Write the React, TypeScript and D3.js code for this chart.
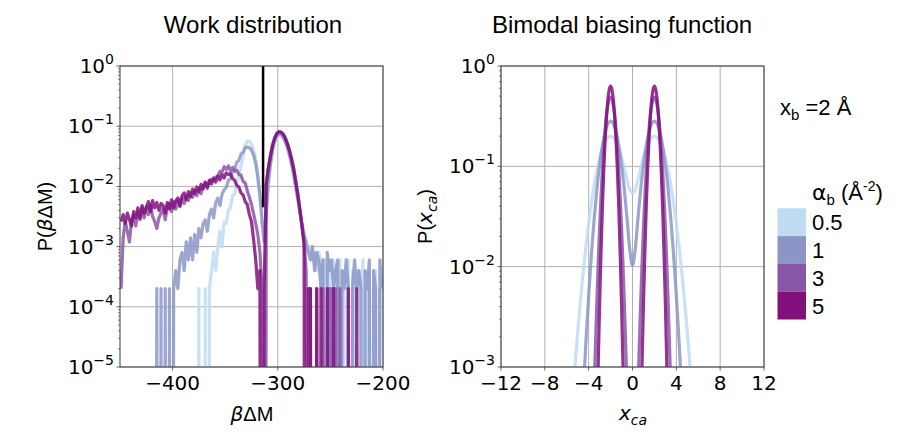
import * as d3 from 'd3';

// ---- data: work distribution histograms (bin width 2, centres -449 .. -201)
const workBins = d3.range(-449, -200, 2);

const workA05 = [
  0, 0, 0, 0, 0, 0, 0, 0, 0, 0,
  0, 0, 0, 0, 0, 0, 0, 0, 0, 0,
  0, 0, 0, 0, 0, 0, 0, 0, 0, 0,
  0, 0, 0, 0, 0, 0, 0, 2e-4, 0, 0,
  2e-4, 0, 2e-4, 4e-4, 8e-4, 4e-4, 1e-3, 1.8e-3, 1e-3, 2.6e-3,
  2.4e-3, 4e-3, 4.4e-3, 7e-3, 7.4e-3, 0.0118, 0.0142, 0.022, 0.031, 0.048,
  0.057, 0.056, 0.05, 0.04, 0.028, 0.016, 0.007, 0.0025, 0.0012, 0.004,
  0.012, 0.024, 0.04, 0.055, 0.066, 0.071, 0.07, 0.065, 0.055, 0.044,
  0.033, 0.023, 0.015, 0.0095, 0.006, 0.0036, 0.0022, 0.0014, 1e-3, 8e-4,
  1e-3, 6e-4, 8e-4, 4e-4, 8e-4, 6e-4, 2e-4, 6e-4, 2e-4, 6e-4,
  0, 6e-4, 4e-4, 2e-4, 6e-4, 0, 4e-4, 2e-4, 6e-4, 0,
  4e-4, 2e-4, 0, 4e-4, 2e-4, 6e-4, 0, 2e-4, 4e-4, 0,
  2e-4, 4e-4, 0, 2e-4, 2e-4,
];

const workA1 = [
  0, 0, 0, 0, 0, 0, 0, 0, 0, 0,
  0, 0, 0, 0, 0, 0, 0, 2e-4, 0, 2e-4,
  0, 2e-4, 0, 2e-4, 0, 2e-4, 4e-4, 2e-4, 6e-4, 8e-4,
  4e-4, 1.2e-3, 6e-4, 1.4e-3, 6e-4, 1.6e-3, 8e-4, 2e-3, 1.4e-3, 2.4e-3,
  2.8e-3, 1.8e-3, 3.4e-3, 4.2e-3, 3e-3, 5.4e-3, 6.4e-3, 4.8e-3, 7.4e-3, 8.8e-3,
  0.0096, 0.0126, 0.0134, 0.018, 0.0192, 0.0252, 0.027, 0.0344, 0.0368, 0.0442,
  0.045, 0.044, 0.04, 0.033, 0.024, 0.014, 0.007, 0.0028, 0.0012, 0.0035,
  0.011, 0.023, 0.04, 0.057, 0.069, 0.074, 0.073, 0.066, 0.056, 0.045,
  0.034, 0.024, 0.016, 0.01, 0.0062, 0.0038, 0.0024, 0.0016, 1.2e-3, 8e-4,
  6e-4, 1e-3, 4e-4, 8e-4, 6e-4, 2e-4, 6e-4, 0, 8e-4, 4e-4,
  6e-4, 2e-4, 4e-4, 6e-4, 0, 4e-4, 2e-4, 6e-4, 2e-4, 0,
  2e-4, 6e-4, 2e-4, 4e-4, 2e-4, 0, 4e-4, 2e-4, 6e-4, 0,
  4e-4, 2e-4, 0, 6e-4, 2e-4,
];

const workA3 = [
  2e-4, 1.4e-3, 2.6e-3, 1.8e-3, 1.2e-3, 2.8e-3, 3.4e-3, 2.2e-3, 3.8e-3, 2.8e-3,
  4.4e-3, 3e-3, 4.6e-3, 3.4e-3, 4.8e-3, 3.2e-3, 2.6e-3, 2e-3, 3e-3, 3.6e-3,
  4.2e-3, 2.8e-3, 4.6e-3, 5.2e-3, 3.8e-3, 5.6e-3, 4.2e-3, 5.8e-3, 4.6e-3, 6.4e-3,
  5.2e-3, 7e-3, 5.8e-3, 7.8e-3, 6.6e-3, 8.6e-3, 7e-3, 9.2e-3, 7.6e-3, 0.0102,
  0.0112, 0.0092, 0.0122, 0.0132, 0.0124, 0.0142, 0.0148, 0.0178, 0.0172, 0.0212,
  0.0192, 0.0218, 0.0182, 0.0206, 0.0178, 0.0186, 0.0158, 0.0154, 0.0122, 0.0114,
  0.0085, 0.0066, 0.005, 0.0035, 0.0024, 0.0016, 8e-4, 2e-4, 0, 0.0105,
  0.02, 0.032, 0.048, 0.063, 0.075, 0.081, 0.08, 0.074, 0.064, 0.052,
  0.04, 0.029, 0.02, 0.0123, 0.0074, 0.0041, 0.0022, 0.0011, 4e-4, 0,
  2e-4, 0, 0, 2e-4, 0, 0, 2e-4, 0, 0, 2e-4,
  2e-4, 0, 2e-4, 0, 2e-4, 0, 0, 0, 0, 0,
  0, 0, 0, 0, 0, 0, 0, 0, 0, 0,
  0, 0, 0, 0, 0,
];

const workA5 = [
  2.6e-3, 3.4e-3, 2.4e-3, 3.6e-3, 2.8e-3, 2.2e-3, 3.8e-3, 3e-3, 4.4e-3, 3e-3,
  4.8e-3, 3.6e-3, 4.4e-3, 5.6e-3, 3.8e-3, 5.8e-3, 4.4e-3, 5.4e-3, 4e-3, 5.2e-3,
  4.8e-3, 3.6e-3, 5.4e-3, 4.2e-3, 6e-3, 4.4e-3, 5.8e-3, 6.4e-3, 4.8e-3, 7e-3,
  7.8e-3, 6e-3, 8.2e-3, 6.8e-3, 9e-3, 7.6e-3, 0.0098, 8.2e-3, 0.0108, 0.009,
  0.0118, 0.0098, 0.0126, 0.011, 0.0138, 0.0118, 0.0148, 0.0128, 0.0158, 0.0138,
  0.0168, 0.0158, 0.0162, 0.0136, 0.0126, 0.0104, 0.0098, 0.0078, 0.0072, 0.0056,
  0.005, 0.0034, 0.0026, 0.0013, 6e-4, 2e-4, 4e-4, 0, 2e-4, 0.011,
  0.02, 0.032, 0.048, 0.063, 0.075, 0.081, 0.08, 0.074, 0.064, 0.052,
  0.04, 0.029, 0.02, 0.0123, 0.0074, 0.0041, 0.0022, 0.0011, 0, 2e-4,
  2e-4, 0, 0, 2e-4, 0, 2e-4, 0, 0, 2e-4, 0,
  0, 2e-4, 0, 0, 0, 0, 0, 0, 2e-4, 0,
  0, 0, 2e-4, 0, 0, 0, 0, 0, 0, 0,
  0, 0, 0, 0, 0,
];

// reference work value (vertical black line)
const markerWork = -314;
const markerRange = [0.0045, 1];

// ---- data: bimodal biasing function P(x_ca)
const biasX05 = d3.range(-5.5, 5.51, 0.25);
const biasP05 = [
  0.000437, 0.00102, 0.00222, 0.00455, 0.00876, 0.0159, 0.027, 0.0431, 0.0648, 0.0913, 0.121,
  0.1506, 0.176, 0.1934, 0.1995, 0.1935, 0.1765, 0.1516, 0.1232, 0.0959, 0.0735, 0.059,
  0.054,
  0.059, 0.0735, 0.0959, 0.1232, 0.1516, 0.1765, 0.1935, 0.1995, 0.1934, 0.176, 0.1506,
  0.121, 0.0913, 0.0648, 0.0431, 0.027, 0.0159, 0.00876, 0.00455, 0.00222, 0.00102, 0.000437,
];

const biasX1 = d3.range(-4.5, 4.51, 0.25);
const biasP1 = [
  0.000544, 0.00179, 0.00517, 0.01319, 0.0297, 0.0591, 0.1038, 0.1607, 0.2197, 0.265,
  0.2821, 0.265, 0.2197, 0.1607, 0.1038, 0.0593, 0.03028, 0.01498,
  0.01033,
  0.01498, 0.03028, 0.0593, 0.1038, 0.1607, 0.2197, 0.265, 0.2821, 0.265, 0.2197,
  0.1607, 0.1038, 0.0591, 0.0297, 0.01319, 0.00517, 0.00179, 0.000544,
];

const biasX3 = [
  -3.5, -3.375, -3.25, -3.125, -3, -2.875, -2.75, -2.625, -2.5, -2.375, -2.25, -2.125, -2,
  -1.875, -1.75, -1.625, -1.5, -1.375, -1.25, -1.125, -1, -0.875, -0.75, -0.625, -0.5,
  0,
  0.5, 0.625, 0.75, 0.875, 1, 1.125, 1.25, 1.375, 1.5, 1.625, 1.75, 1.875,
  2, 2.125, 2.25, 2.375, 2.5, 2.625, 2.75, 2.875, 3, 3.125, 3.25, 3.375, 3.5,
];
const biasP3 = [
  0.000572, 0.001681, 0.0045, 0.01096, 0.02433, 0.04915, 0.0904, 0.1514, 0.2308, 0.3204, 0.4051, 0.4662, 0.4886,
  0.4662, 0.4051, 0.3204, 0.2308, 0.1514, 0.0904, 0.04915, 0.02433, 0.01096, 0.0045, 0.001681, 0.000572,
  0.000006,
  0.000572, 0.001681, 0.0045, 0.01096, 0.02433, 0.04915, 0.0904, 0.1514, 0.2308, 0.3204, 0.4051, 0.4662,
  0.4886, 0.4662, 0.4051, 0.3204, 0.2308, 0.1514, 0.0904, 0.04915, 0.02433, 0.01096, 0.0045, 0.001681, 0.000572,
];

const biasX5 = [
  -3.25, -3.125, -3, -2.875, -2.75, -2.625, -2.5, -2.375, -2.25, -2.125, -2,
  -1.875, -1.75, -1.625, -1.5, -1.375, -1.25, -1.125, -1, -0.875, -0.75,
  0,
  0.75, 0.875, 1, 1.125, 1.25, 1.375, 1.5, 1.625, 1.75, 1.875,
  2, 2.125, 2.25, 2.375, 2.5, 2.625, 2.75, 2.875, 3, 3.125, 3.25,
];
const biasP5 = [
  0.000255, 0.001126, 0.00425, 0.01372, 0.0379, 0.0895, 0.1807, 0.3123, 0.4615, 0.5834, 0.6308,
  0.5834, 0.4615, 0.3123, 0.1807, 0.0895, 0.0379, 0.01372, 0.00425, 0.001126, 0.000255,
  0.0000000026,
  0.000255, 0.001126, 0.00425, 0.01372, 0.0379, 0.0895, 0.1807, 0.3123, 0.4615, 0.5834,
  0.6308, 0.5834, 0.4615, 0.3123, 0.1807, 0.0895, 0.0379, 0.01372, 0.00425, 0.001126, 0.000255,
];

const alphaLabels = ['0.5', '1', '3', '5'];
const alphaColors = ['#bfdcf2', '#8c96c6', '#8856a7', '#810f7c'];
const workSeries = [workA05, workA1, workA3, workA5];
const biasSeries = [
  [biasX05, biasP05],
  [biasX1, biasP1],
  [biasX3, biasP3],
  [biasX5, biasP5],
];

const workTicks = [-400, -300, -200];
const biasTicks = [-12, -8, -4, 0, 4, 8, 12];

const W = 900;
const H = 448;
const L = { x0: 120, x1: 383, y0: 66, y1: 367 };
const R = { x0: 501, x1: 764, y0: 66, y1: 367 };

const tickFont = '"DejaVu Sans", sans-serif';
const textFont = '"Liberation Sans", Arial, sans-serif';
const gridColor = '#b0b0b0';
const spineColor = '#3a3a3a';

const minus = (v: number) => (v < 0 ? '\u2212' + Math.abs(v) : String(v));

function LogAxis({ y, x0, exps }) {
  const [lo, hi] = y.domain();
  const minors: number[] = [];
  for (let e = Math.round(Math.log10(lo)); e < Math.round(Math.log10(hi)); e++) {
    for (let k = 2; k <= 9; k++) minors.push(k * Math.pow(10, e));
  }
  return (
    <g>
      {minors.map((v, i) => (
        <line key={'m' + i} x1={x0 - 2} x2={x0} y1={y(v)} y2={y(v)} stroke={spineColor} strokeWidth={0.6} />
      ))}
      {exps.map((e) => {
        const v = Math.pow(10, e);
        return (
          <g key={e}>
            <line x1={x0 - 3.5} x2={x0} y1={y(v)} y2={y(v)} stroke={spineColor} strokeWidth={0.8} />
            <text x={x0 - 6} y={y(v) + 7} textAnchor="end" fontFamily={tickFont} fontSize={20} fill="#000">
              10<tspan dy={-9} fontSize={14}>{minus(e)}</tspan>
            </text>
          </g>
        );
      })}
    </g>
  );
}

function Frame({ box }) {
  return (
    <rect x={box.x0} y={box.y0} width={box.x1 - box.x0} height={box.y1 - box.y0}
      fill="none" stroke={spineColor} strokeWidth={1} />
  );
}

export default function App() {
  const xL = d3.scaleLinear().domain([-450, -200]).range([L.x0, L.x1]);
  const yL = d3.scaleLog().domain([1e-5, 1]).range([L.y1, L.y0]);
  const xR = d3.scaleLinear().domain([-12, 12]).range([R.x0, R.x1]);
  const yR = d3.scaleLog().domain([1e-3, 1]).range([R.y1, R.y0]);

  const workLine = d3.line<number>()
    .x((_, i) => xL(workBins[i]))
    .y((d) => yL(d > 0 ? d : 1e-30));

  const biasLine = d3.line<[number, number]>()
    .x((d) => xR(d[0]))
    .y((d) => yR(d[1]))
    .curve(d3.curveMonotoneX);

  const leftDecades = [-5, -4, -3, -2, -1, 0];
  const rightDecades = [-3, -2, -1, 0];

  return (
    <div style={{ position: 'absolute', left: 0, top: 0 }}>
      <svg width={W} height={H} viewBox={`0 0 ${W} ${H}`} style={{ display: 'block', background: '#fff' }}>
        <defs>
          <clipPath id="clipL"><rect x={L.x0} y={L.y0} width={L.x1 - L.x0} height={L.y1 - L.y0} /></clipPath>
          <clipPath id="clipR"><rect x={R.x0} y={R.y0} width={R.x1 - R.x0} height={R.y1 - R.y0} /></clipPath>
        </defs>

        {/* ---------- left: work distribution ---------- */}
        <g>
          {workTicks.map((t) => (
            <line key={t} x1={xL(t)} x2={xL(t)} y1={L.y0} y2={L.y1} stroke={gridColor} strokeWidth={1} />
          ))}
          {leftDecades.map((e) => (
            <line key={e} x1={L.x0} x2={L.x1} y1={yL(Math.pow(10, e))} y2={yL(Math.pow(10, e))} stroke={gridColor} strokeWidth={1} />
          ))}
          <g clipPath="url(#clipL)">
            {workSeries.map((s, i) => (
              <path key={i} d={workLine(s) || ''} fill="none" stroke={alphaColors[i]}
                strokeWidth={3.2} strokeOpacity={0.85} strokeLinejoin="round" />
            ))}
            <line x1={xL(markerWork)} x2={xL(markerWork)} y1={yL(markerRange[1])} y2={yL(markerRange[0])}
              stroke="#000" strokeWidth={2.5} />
          </g>
          <Frame box={L} />
          <LogAxis y={yL} x0={L.x0} exps={leftDecades} />
          {workTicks.map((t) => (
            <g key={t}>
              <line x1={xL(t)} x2={xL(t)} y1={L.y1} y2={L.y1 + 3.5} stroke={spineColor} strokeWidth={0.8} />
              <text x={xL(t)} y={390} textAnchor="middle" fontFamily={tickFont} fontSize={20}>{minus(t)}</text>
            </g>
          ))}
          <text x={253} y={33} textAnchor="middle" fontFamily={textFont} fontSize={24}>Work distribution</text>
          <text x={252} y={421} textAnchor="middle" fontFamily={textFont} fontSize={20}>
            <tspan fontFamily={tickFont} fontStyle="italic">β</tspan>ΔM
          </text>
          <text transform="translate(52,216.5) rotate(-90)" textAnchor="middle" fontFamily={textFont} fontSize={20}>
            P(<tspan fontFamily={tickFont} fontStyle="italic">β</tspan>ΔM)
          </text>
        </g>

        {/* ---------- right: bimodal biasing function ---------- */}
        <g>
          {biasTicks.map((t) => (
            <line key={t} x1={xR(t)} x2={xR(t)} y1={R.y0} y2={R.y1} stroke={gridColor} strokeWidth={1} />
          ))}
          {rightDecades.map((e) => (
            <line key={e} x1={R.x0} x2={R.x1} y1={yR(Math.pow(10, e))} y2={yR(Math.pow(10, e))} stroke={gridColor} strokeWidth={1} />
          ))}
          <g clipPath="url(#clipR)">
            {biasSeries.map(([xs, ps], i) => (
              <path key={i} d={biasLine(d3.zip(xs, ps) as [number, number][]) || ''} fill="none"
                stroke={alphaColors[i]} strokeWidth={3.2} strokeOpacity={0.85} strokeLinejoin="round" />
            ))}
          </g>
          <Frame box={R} />
          <LogAxis y={yR} x0={R.x0} exps={rightDecades} />
          {biasTicks.map((t) => (
            <g key={t}>
              <line x1={xR(t)} x2={xR(t)} y1={R.y1} y2={R.y1 + 3.5} stroke={spineColor} strokeWidth={0.8} />
              <text x={xR(t)} y={390} textAnchor="middle" fontFamily={tickFont} fontSize={20}>{minus(t)}</text>
            </g>
          ))}
          <text x={622} y={33} textAnchor="middle" fontFamily={textFont} fontSize={24}>Bimodal biasing function</text>
          <text x={633} y={420} textAnchor="middle" fontFamily={tickFont} fontSize={20} fontStyle="italic">
            x<tspan dy={5} fontSize={14}>ca</tspan>
          </text>
          <text transform="translate(432,216.5) rotate(-90)" textAnchor="middle" fontFamily={textFont} fontSize={20}>
            P(<tspan fontFamily={tickFont} fontStyle="italic">x</tspan><tspan fontFamily={tickFont} fontStyle="italic" fontSize={14} dy={5}>ca</tspan><tspan dy={-5}>)</tspan>
          </text>

          {/* annotation and legend */}
          <text x={780} y={115} fontFamily={textFont} fontSize={22}>
            x<tspan dy={5} fontSize={15}>b</tspan><tspan dy={-5}> =2 Å</tspan>
          </text>
          <text x={812} y={200} fontFamily={textFont} fontSize={22}>
            <tspan fontFamily={tickFont}>α</tspan><tspan dy={5} fontSize={15}>b</tspan><tspan dy={-5}> (Å</tspan><tspan dy={-9} fontSize={14}>-2</tspan><tspan dy={9}>)</tspan>
          </text>
          {alphaLabels.map((lab, i) => (
            <g key={lab}>
              <rect x={777.5} y={208.3 + i * 27.8} width={28.5} height={27.8} fill={alphaColors[i]} />
              <text x={812} y={208.3 + i * 27.8 + 22} fontFamily={textFont} fontSize={22}>{lab}</text>
            </g>
          ))}
        </g>
      </svg>
    </div>
  );
}
